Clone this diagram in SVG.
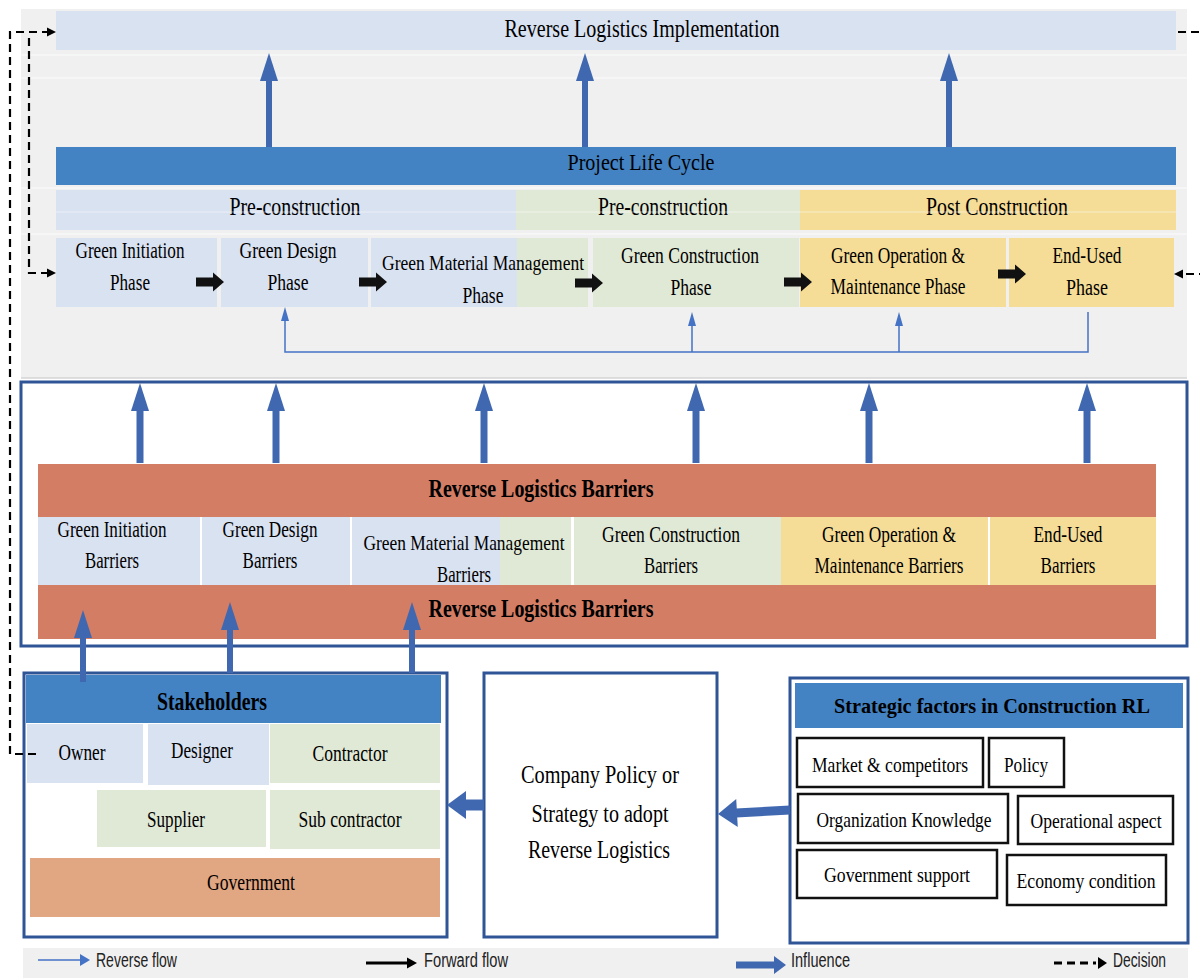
<svg xmlns="http://www.w3.org/2000/svg" width="1200" height="978" viewBox="0 0 1200 978">
<defs>
<style>
text{font-family:"Liberation Serif","Times New Roman",serif;fill:#000;text-anchor:middle}
.s21{font-size:21px}
.s22{font-size:22px}
.s23{font-size:23px}
.s24{font-size:24px}
.s25{font-size:25px}
.s26{font-size:26px}
.b{font-weight:bold}
.leg{font-family:"Liberation Sans",Arial,sans-serif;font-size:20px;text-anchor:start;fill:#222}
.pb{fill:#d9e2f1}
.pg{fill:#e0e9d6}
.py{fill:#f5dc97}
.rd{fill:#d37d65}
.hd{fill:#4382c3}
.gv{fill:#e1a682}
.frame{fill:#fff;stroke:#2f5597;stroke-width:3}
.fac{fill:#fff;stroke:#111;stroke-width:2.5}
.infl{stroke:#4068b0;fill:none}
.rev{stroke:#4472c4;stroke-width:1.5;fill:none}
.dec{stroke:#000;stroke-width:2.2;fill:none;stroke-dasharray:8 5}
.wl{stroke:#fbfbfb;stroke-width:1.2}
</style>
<marker id="ah" markerUnits="userSpaceOnUse" orient="auto" overflow="visible" markerWidth="1" markerHeight="1" refX="0" refY="0">
<path d="M-1,-9 L27,0 L-1,9 Z" fill="#4068b0"/>
</marker>
<marker id="ahL" markerUnits="userSpaceOnUse" orient="auto" overflow="visible" markerWidth="1" markerHeight="1" refX="0" refY="0">
<path d="M-1,-14 L18,0 L-1,14 Z" fill="#4068b0"/>
</marker>
<marker id="ahS" markerUnits="userSpaceOnUse" orient="auto" overflow="visible" markerWidth="1" markerHeight="1" refX="0" refY="0">
<path d="M-1,-4 L13,0 L-1,4 Z" fill="#4472c4"/>
</marker>
<path id="fwd" d="M0,-4.5 H17 V-9.5 L28,0 L17,9.5 V4.5 H0 Z" fill="#111"/>
</defs>

<rect width="1200" height="978" fill="#fff"/>

<!-- top panel background -->
<g id="lifecycle-panel">
<rect x="21" y="9" width="1166" height="369" fill="#f0f0f0"/>
<line x1="21" y1="55" x2="1187" y2="55" class="wl"/>
<line x1="21" y1="78" x2="1187" y2="78" class="wl"/>
<line x1="21" y1="188" x2="1187" y2="188" class="wl"/>
<line x1="21" y1="234" x2="1187" y2="234" class="wl"/>
<line x1="21" y1="378" x2="1187" y2="378" stroke="#d4d4d4" stroke-width="1.5"/>
</g>

<g id="rl-implementation">
<rect x="56" y="11" width="1120" height="39" class="pb"/>
<text x="642" y="37" class="s26" textLength="275" lengthAdjust="spacingAndGlyphs">Reverse Logistics Implementation</text>
</g>

<g id="project-life-cycle">
<rect x="56" y="147" width="1120" height="38" class="hd"/>
<text x="641" y="170" class="s24" fill="#111" textLength="147" lengthAdjust="spacingAndGlyphs">Project Life Cycle</text>
</g>

<g id="stage-pre-construction-1">
<rect x="56" y="190" width="460" height="40" class="pb"/>
<text x="295" y="215" class="s25" textLength="131" lengthAdjust="spacingAndGlyphs">Pre-construction</text>
</g>
<g id="stage-pre-construction-2">
<rect x="516" y="190" width="284" height="40" class="pg"/>
<text x="663" y="215" class="s25" textLength="130" lengthAdjust="spacingAndGlyphs">Pre-construction</text>
</g>
<g id="stage-post-construction">
<rect x="800" y="190" width="376" height="40" class="py"/>
<text x="997" y="215" class="s25" textLength="142" lengthAdjust="spacingAndGlyphs">Post Construction</text>
</g>
<line x1="56" y1="212" x2="1176" y2="212" stroke="#ffffff" stroke-opacity="0.5" stroke-width="1"/>

<!-- phases -->
<g id="phase-initiation">
<rect x="56" y="238" width="161" height="69" class="pb"/>
<text x="130" y="258" class="s24" textLength="109" lengthAdjust="spacingAndGlyphs">Green Initiation</text>
<text x="130" y="290" class="s24" textLength="40" lengthAdjust="spacingAndGlyphs">Phase</text>
</g>
<g id="phase-design">
<rect x="221" y="238" width="147" height="69" class="pb"/>
<text x="288" y="258" class="s24" textLength="97" lengthAdjust="spacingAndGlyphs">Green Design</text>
<text x="288" y="290" class="s24" textLength="41" lengthAdjust="spacingAndGlyphs">Phase</text>
</g>
<g id="phase-material">
<rect x="371" y="238" width="146" height="69" class="pb"/>
<rect x="517" y="238" width="71" height="69" class="pg"/>
<text x="483" y="270" class="s22" textLength="202" lengthAdjust="spacingAndGlyphs">Green Material  Management</text>
<text x="483" y="303" class="s24" textLength="41" lengthAdjust="spacingAndGlyphs">Phase</text>
</g>
<g id="phase-construction">
<rect x="593" y="238" width="206" height="69" class="pg"/>
<text x="690" y="263" class="s24" textLength="138" lengthAdjust="spacingAndGlyphs">Green Construction</text>
<text x="691" y="295" class="s24" textLength="41" lengthAdjust="spacingAndGlyphs">Phase</text>
</g>
<g id="phase-operation">
<rect x="800" y="238" width="206" height="69" class="py"/>
<text x="898" y="263" class="s24" textLength="134" lengthAdjust="spacingAndGlyphs">Green Operation &amp;</text>
<text x="898" y="294" class="s24" textLength="135" lengthAdjust="spacingAndGlyphs">Maintenance Phase</text>
</g>
<g id="phase-end-used">
<rect x="1009" y="238" width="165" height="69" class="py"/>
<text x="1087" y="263" class="s24" textLength="69" lengthAdjust="spacingAndGlyphs">End-Used</text>
<text x="1087" y="295" class="s24" textLength="42" lengthAdjust="spacingAndGlyphs">Phase</text>
</g>

<!-- barriers -->
<g id="barriers-frame">
<rect x="21" y="382" width="1166" height="264" class="frame"/>
</g>
<g id="rl-barriers-top">
<rect x="38" y="464" width="1118" height="53" class="rd"/>
<text x="541" y="497" class="s26 b" textLength="225" lengthAdjust="spacingAndGlyphs">Reverse Logistics Barriers</text>
</g>
<g id="barrier-initiation">
<rect x="38" y="517" width="162" height="68" class="pb"/>
<text x="112" y="537" class="s24" textLength="109" lengthAdjust="spacingAndGlyphs">Green Initiation</text>
<text x="112" y="568" class="s24" textLength="54" lengthAdjust="spacingAndGlyphs">Barriers</text>
</g>
<g id="barrier-design">
<rect x="202" y="517" width="148" height="68" class="pb"/>
<text x="270" y="537" class="s24" textLength="95" lengthAdjust="spacingAndGlyphs">Green Design</text>
<text x="270" y="568" class="s24" textLength="55" lengthAdjust="spacingAndGlyphs">Barriers</text>
</g>
<g id="barrier-material">
<rect x="352" y="517" width="148" height="68" class="pb"/>
<rect x="500" y="517" width="71" height="68" class="pg"/>
<text x="464" y="550" class="s22" textLength="201" lengthAdjust="spacingAndGlyphs">Green Material  Management</text>
<text x="464" y="582" class="s24" textLength="54" lengthAdjust="spacingAndGlyphs">Barriers</text>
</g>
<g id="barrier-construction">
<rect x="574" y="517" width="207" height="68" class="pg"/>
<text x="671" y="542" class="s24" textLength="138" lengthAdjust="spacingAndGlyphs">Green Construction</text>
<text x="671" y="573" class="s24" textLength="54" lengthAdjust="spacingAndGlyphs">Barriers</text>
</g>
<g id="barrier-operation">
<rect x="781" y="517" width="207" height="68" class="py"/>
<text x="889" y="542" class="s24" textLength="134" lengthAdjust="spacingAndGlyphs">Green Operation &amp;</text>
<text x="889" y="573" class="s24" textLength="149" lengthAdjust="spacingAndGlyphs">Maintenance Barriers</text>
</g>
<g id="barrier-end-used">
<rect x="990" y="517" width="166" height="68" class="py"/>
<text x="1068" y="542" class="s24" textLength="69" lengthAdjust="spacingAndGlyphs">End-Used</text>
<text x="1068" y="573" class="s24" textLength="55" lengthAdjust="spacingAndGlyphs">Barriers</text>
</g>
<g id="rl-barriers-bottom">
<rect x="38" y="585" width="1118" height="54" class="rd"/>
<text x="541" y="617" class="s26 b" textLength="225" lengthAdjust="spacingAndGlyphs">Reverse Logistics Barriers</text>
</g>

<!-- stakeholders -->
<g id="stakeholders">
<rect x="24" y="673" width="423" height="264" class="frame"/>
<rect x="26" y="675" width="415" height="48" class="hd"/>
<text x="212" y="710" class="s26 b" fill="#111" textLength="110" lengthAdjust="spacingAndGlyphs">Stakeholders</text>
</g>
<g id="owner">
<rect x="27" y="724" width="116" height="59" class="pb"/>
<text x="82" y="760" class="s23" textLength="47" lengthAdjust="spacingAndGlyphs">Owner</text>
</g>
<g id="designer">
<rect x="148" y="724" width="121" height="61" class="pb"/>
<text x="202" y="758" class="s23" textLength="62" lengthAdjust="spacingAndGlyphs">Designer</text>
</g>
<g id="contractor">
<rect x="270" y="724" width="170" height="59" class="pg"/>
<text x="350" y="761" class="s23" textLength="75" lengthAdjust="spacingAndGlyphs">Contractor</text>
</g>
<g id="supplier">
<rect x="97" y="790" width="169" height="57" class="pg"/>
<text x="176" y="827" class="s23" textLength="58" lengthAdjust="spacingAndGlyphs">Supplier</text>
</g>
<g id="sub-contractor">
<rect x="270" y="790" width="170" height="59" class="pg"/>
<text x="350" y="827" class="s23" textLength="103" lengthAdjust="spacingAndGlyphs">Sub contractor</text>
</g>
<g id="government">
<rect x="30" y="858" width="410" height="59" class="gv"/>
<text x="251" y="890" class="s23" textLength="88" lengthAdjust="spacingAndGlyphs">Government</text>
</g>

<!-- company policy -->
<g id="company-policy">
<rect x="484" y="673" width="233" height="264" class="frame"/>
<text x="600" y="783" class="s26" textLength="158" lengthAdjust="spacingAndGlyphs">Company Policy or</text>
<text x="600" y="822" class="s26" textLength="137" lengthAdjust="spacingAndGlyphs">Strategy to adopt</text>
<text x="599" y="858" class="s26" textLength="142" lengthAdjust="spacingAndGlyphs">Reverse Logistics</text>
</g>

<!-- strategic factors -->
<g id="strategic-factors">
<rect x="790" y="678" width="398" height="265" class="frame"/>
<rect x="795" y="683" width="388" height="45" class="hd"/>
<text x="992" y="713" class="s22 b" fill="#111" textLength="316" lengthAdjust="spacingAndGlyphs">Strategic factors in Construction RL</text>
</g>
<g id="factor-market">
<rect x="797" y="738" width="186" height="49" class="fac"/>
<text x="890" y="772" class="s22" textLength="156" lengthAdjust="spacingAndGlyphs">Market &amp; competitors</text>
</g>
<g id="factor-policy">
<rect x="989" y="738" width="75" height="49" class="fac"/>
<text x="1026" y="772" class="s22" textLength="44" lengthAdjust="spacingAndGlyphs">Policy</text>
</g>
<g id="factor-organization">
<rect x="798" y="794" width="210" height="49" class="fac"/>
<text x="904" y="827" class="s22" textLength="175" lengthAdjust="spacingAndGlyphs">Organization Knowledge</text>
</g>
<g id="factor-operational">
<rect x="1018" y="796" width="155" height="48" class="fac"/>
<text x="1096" y="828" class="s21" textLength="131" lengthAdjust="spacingAndGlyphs">Operational aspect</text>
</g>
<g id="factor-government">
<rect x="797" y="850" width="200" height="48" class="fac"/>
<text x="897" y="882" class="s22" textLength="146" lengthAdjust="spacingAndGlyphs">Government support</text>
</g>
<g id="factor-economy">
<rect x="1007" y="855" width="159" height="50" class="fac"/>
<text x="1086" y="888" class="s21" textLength="139" lengthAdjust="spacingAndGlyphs">Economy condition</text>
</g>

<!-- connectors -->
<g id="connectors">
<use href="#fwd" x="196" y="282"/>
<use href="#fwd" x="359" y="282"/>
<use href="#fwd" x="575" y="283"/>
<use href="#fwd" x="784" y="282"/>
<use href="#fwd" x="998" y="274"/>
<line x1="269" y1="147" x2="269" y2="80" class="infl" stroke-width="6" marker-end="url(#ah)"/>
<line x1="585" y1="147" x2="585" y2="80" class="infl" stroke-width="6" marker-end="url(#ah)"/>
<line x1="949" y1="147" x2="949" y2="80" class="infl" stroke-width="6" marker-end="url(#ah)"/>
<line x1="140" y1="463" x2="140" y2="410" class="infl" stroke-width="7" marker-end="url(#ah)"/>
<line x1="276" y1="463" x2="276" y2="410" class="infl" stroke-width="7" marker-end="url(#ah)"/>
<line x1="484" y1="463" x2="484" y2="410" class="infl" stroke-width="7" marker-end="url(#ah)"/>
<line x1="696" y1="463" x2="696" y2="410" class="infl" stroke-width="7" marker-end="url(#ah)"/>
<line x1="869" y1="463" x2="869" y2="410" class="infl" stroke-width="7" marker-end="url(#ah)"/>
<line x1="1087" y1="463" x2="1087" y2="410" class="infl" stroke-width="7" marker-end="url(#ah)"/>
<line x1="83" y1="682" x2="83" y2="637" class="infl" stroke-width="6" marker-end="url(#ah)"/>
<line x1="230" y1="673" x2="230" y2="629" class="infl" stroke-width="6" marker-end="url(#ah)"/>
<line x1="412" y1="673" x2="412" y2="629" class="infl" stroke-width="6" marker-end="url(#ah)"/>
<line x1="484" y1="805" x2="465" y2="805" class="infl" stroke-width="11" marker-end="url(#ahL)"/>
<line x1="790" y1="810" x2="736" y2="813" class="infl" stroke-width="9" marker-end="url(#ahL)"/>
<path d="M1088,312 V352 H285 V320" class="rev" marker-end="url(#ahS)"/>
<line x1="692" y1="352" x2="692" y2="325" class="rev" marker-end="url(#ahS)"/>
<line x1="899" y1="352" x2="899" y2="325" class="rev" marker-end="url(#ahS)"/>
<path d="M36,754 H10 V32 H47" class="dec"/>
<path d="M47,27.5 L56,32 L47,36.5 Z" fill="#000"/>
<path d="M29,38 V273 H47" class="dec" stroke-width="1.8" stroke-dasharray="7 6"/>
<path d="M47,268.5 L56,273 L47,277.5 Z" fill="#000"/>
<path d="M1178,32 H1200" class="dec"/>
<path d="M1186,274 H1200" class="dec"/>
<path d="M1183,269.5 L1174,274 L1183,278.5 Z" fill="#000"/>
</g>

<!-- legend -->
<g id="legend">
<rect x="23" y="948" width="1165" height="30" fill="#f0f0f0"/>
<line x1="38" y1="960" x2="81" y2="960" stroke="#4472c4" stroke-width="1.5"/>
<path d="M80,954 L90,960 L80,966 Z" fill="#4472c4"/>
<text x="96" y="967" class="leg" textLength="81" lengthAdjust="spacingAndGlyphs">Reverse flow</text>
<line x1="366" y1="963" x2="408" y2="963" stroke="#000" stroke-width="3"/>
<path d="M407,957.5 L417,963 L407,968.5 Z" fill="#000"/>
<text x="424" y="967" class="leg" textLength="84" lengthAdjust="spacingAndGlyphs">Forward flow</text>
<line x1="736" y1="965" x2="775" y2="965" stroke="#4068b0" stroke-width="7"/>
<path d="M774,956 L786,965 L774,974 Z" fill="#4068b0"/>
<text x="791" y="967" class="leg" textLength="59" lengthAdjust="spacingAndGlyphs">Influence</text>
<line x1="1054" y1="963" x2="1096" y2="963" stroke="#000" stroke-width="3" stroke-dasharray="8 5"/>
<path d="M1098,957 L1107,963 L1098,969 Z" fill="#000"/>
<text x="1113" y="967" class="leg" textLength="53" lengthAdjust="spacingAndGlyphs">Decision</text>
</g>
</svg>
